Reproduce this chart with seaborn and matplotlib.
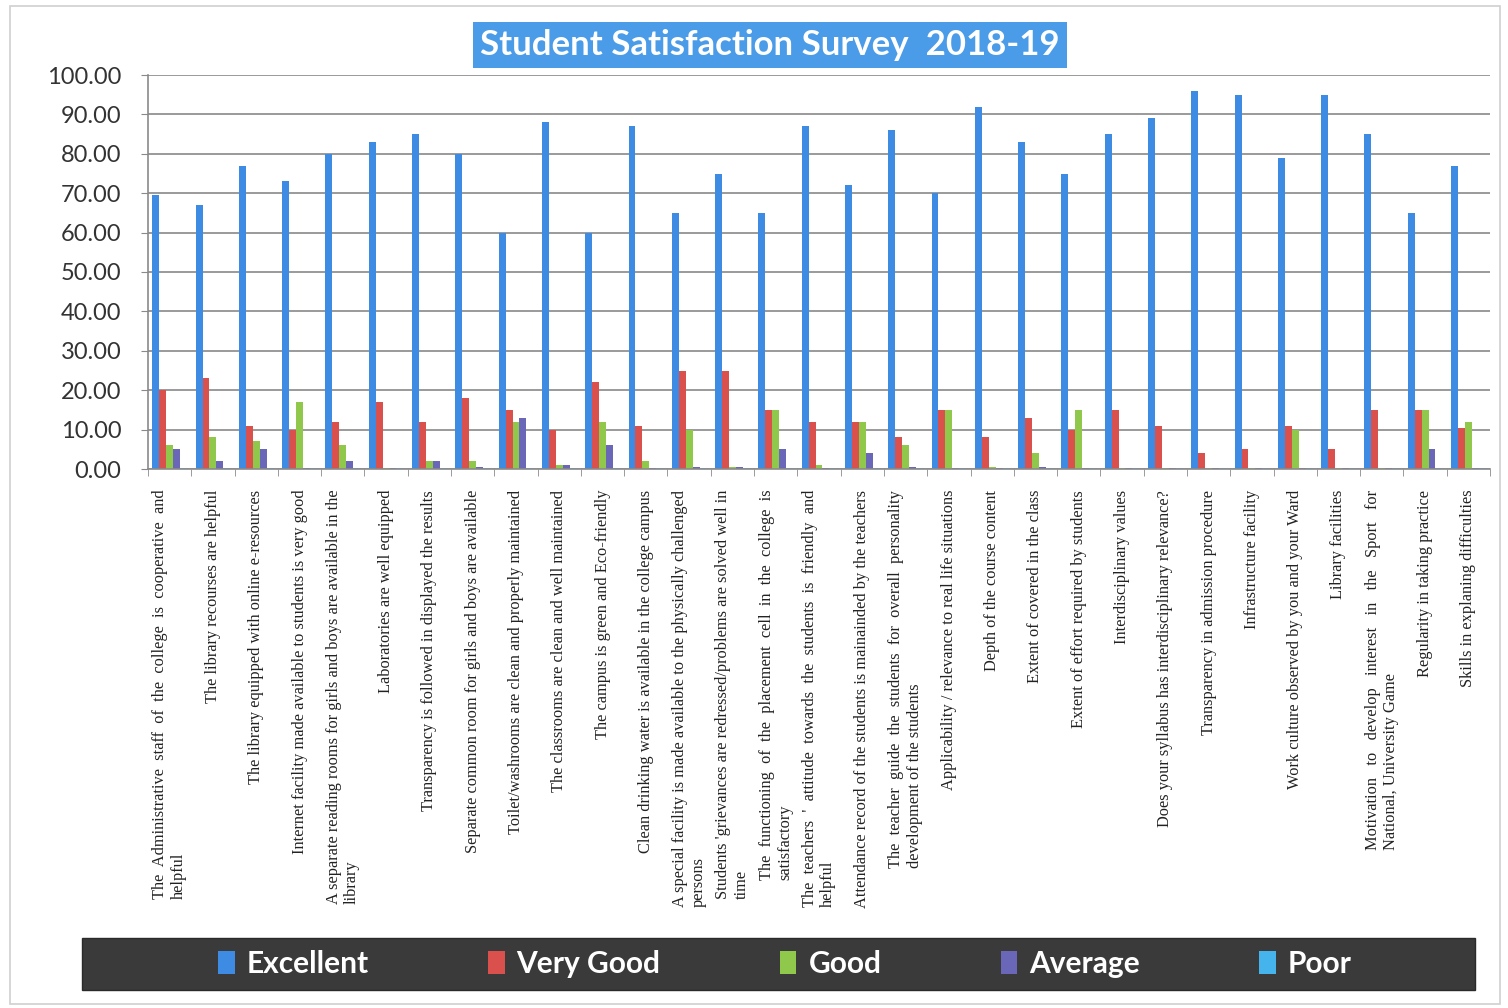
import pandas as pd
import matplotlib.pyplot as plt
import seaborn as sns
from matplotlib.patches import Rectangle, Patch
from matplotlib.ticker import FixedLocator

preguntas = [
    "The  Administrative  staff  of  the  college  is  cooperative  and\nhelpful",
    "The library recourses are helpful",
    "The library equipped with online e-resources",
    "Internet facility made available to students is very good",
    "A separate reading rooms for girls and boys are available in the\nlibrary",
    "Laboratories are well equipped",
    "Transparency is followed in displayed the results",
    "Separate common room for girls and boys are available",
    "Toilet/washrooms are clean and properly maintained",
    "The classrooms are clean and well maintained",
    "The campus is green and Eco-friendly",
    "Clean drinking water is available in the college campus",
    "A special facility is made available to the physically challenged\npersons",
    "Students 'grievances are redressed/problems are solved well in\ntime",
    "The  functioning  of  the  placement  cell  in  the  college  is\nsatisfactory",
    "The  teachers  '  attitude  towards  the  students  is  friendly  and\nhelpful",
    "Attendance record of the students is mainainded by the teachers",
    "The  teacher  guide  the  students  for  overall  personality\ndevelopment of the students",
    "Applicability / relevance to real life situations",
    "Depth of the course content",
    "Extent of covered in the class",
    "Extent of effort required by students",
    "Interdisciplinary values",
    "Does your syllabus has interdisciplinary relevance?",
    "Transparency in admission procedure",
    "Infrastructure facility",
    "Work culture observed by you and your Ward",
    "Library facilities",
    "Motivation   to   develop   interest   in   the   Sport   for\nNational, University Game",
    "Regularity in taking practice",
    "Skills in explaning difficulties",
]

excelente = [69.5, 67, 77, 73, 80, 83, 85, 80, 60, 88, 60, 87, 65, 75, 65, 87,
             72, 86, 70, 92, 83, 75, 85, 89, 96, 95, 79, 95, 85, 65, 77]
muy_bueno = [20, 23, 11, 10, 12, 17, 12, 18, 15, 10, 22, 11, 25, 25, 15, 12,
             12, 8, 15, 8, 13, 10, 15, 11, 4, 5, 11, 5, 15, 15, 10.5]
bueno = [6, 8, 7, 17, 6, 0.3, 2, 2, 12, 1, 12, 2, 10, 0.5, 15, 1,
         12, 6, 15, 0.5, 4, 15, 0.3, 0.3, 0.3, 0.3, 10, 0.3, 0.3, 15, 12]
medio = [5, 2, 5, 0.3, 2, 0.3, 2, 0.5, 13, 1, 6, 0.3, 0.5, 0.5, 5, 0.3,
         4, 0.5, 0.3, 0.3, 0.5, 0.3, 0.3, 0.3, 0.3, 0.3, 0.3, 0.3, 0.3, 5, 0.3]
pobre = [0.3] * 31

niveles = ["Excellent", "Very Good", "Good", "Average", "Poor"]
colores = ["#3d8be2", "#d9504c", "#8fc84a", "#6a66b8", "#45b4ec"]

df = pd.DataFrame({
    "pregunta": preguntas,
    "Excellent": excelente,
    "Very Good": muy_bueno,
    "Good": bueno,
    "Average": medio,
    "Poor": pobre,
})
df_largo = df.melt(id_vars="pregunta", var_name="nivel", value_name="valor")

sns.set_style("white")
plt.rcParams["font.family"] = ["Lato", "DejaVu Sans"]

fig = plt.figure(figsize=(15.08, 10.08), dpi=100)
ax = fig.add_axes([148 / 1508, 1 - 469 / 1008, (1490 - 148) / 1508, (469 - 75) / 1008])

sns.barplot(data=df_largo, x="pregunta", y="valor", hue="nivel", hue_order=niveles,
            palette=colores, width=0.8, gap=0, saturation=1, linewidth=0,
            ax=ax, legend=False)

ax.set_ylim(0, 100)
ax.set_xlim(-0.5, 30.5)
ax.set_yticks(range(0, 101, 10))
ax.set_yticklabels([f"{v:.2f}" for v in range(0, 101, 10)], fontsize=17, color="#333333")
ax.grid(axis="y", color="#9a9a9a", linewidth=1.4)
ax.set_axisbelow(True)
ax.set_xlabel("")
ax.set_ylabel("")

for lado in ["top", "right"]:
    ax.spines[lado].set_visible(False)
for lado in ["left", "bottom"]:
    ax.spines[lado].set_color("#8a8a8a")
    ax.spines[lado].set_linewidth(1.2)

ax.tick_params(axis="y", length=5, color="#8a8a8a", pad=14, left=True)
ax.tick_params(axis="x", which="major", length=0, pad=15)
ax.xaxis.set_minor_locator(FixedLocator([i + 0.5 for i in range(-1, 31)]))
ax.tick_params(axis="x", which="minor", length=5, color="#8a8a8a", bottom=True)

ax.set_xticks(range(len(preguntas)))
ax.set_xticklabels(preguntas, rotation=90, fontsize=11.8, color="#222222",
                   family=["Liberation Serif", "DejaVu Serif"],
                   ha="center", va="top", multialignment="left")

# título en caja azul
fig.text(770 / 1508, 1 - 45 / 1008, "Student Satisfaction Survey  2018-19",
         ha="center", va="center", fontsize=25, fontweight="bold", color="white",
         bbox=dict(boxstyle="square,pad=0.2", facecolor="#4a9be8", edgecolor="none"))

# caja de la leyenda
fig.patches.append(Rectangle((82 / 1508, 1 - 990 / 1008), (1475 - 82) / 1508, 52 / 1008,
                             transform=fig.transFigure, facecolor="#3a3a3a",
                             edgecolor="#2a2a2a", zorder=0))
handles = [Patch(facecolor=c, edgecolor="none") for c in colores]
ley = fig.legend(handles, niveles, loc="center", bbox_to_anchor=(785 / 1508, 1 - 964 / 1008),
                 ncol=5, frameon=False, fontsize=21.5, columnspacing=4.0,
                 handlelength=0.55, handleheight=0.8, handletextpad=0.4)
for t in ley.get_texts():
    t.set_color("white")
    t.set_fontweight("bold")

# borde del gráfico
fig.patches.append(Rectangle((10 / 1508, 0.004), 1490 / 1508, 0.99,
                             transform=fig.transFigure, facecolor="none",
                             edgecolor="#d0d0d0", linewidth=1.2, zorder=0))

fig.savefig("out.png", dpi=100)
